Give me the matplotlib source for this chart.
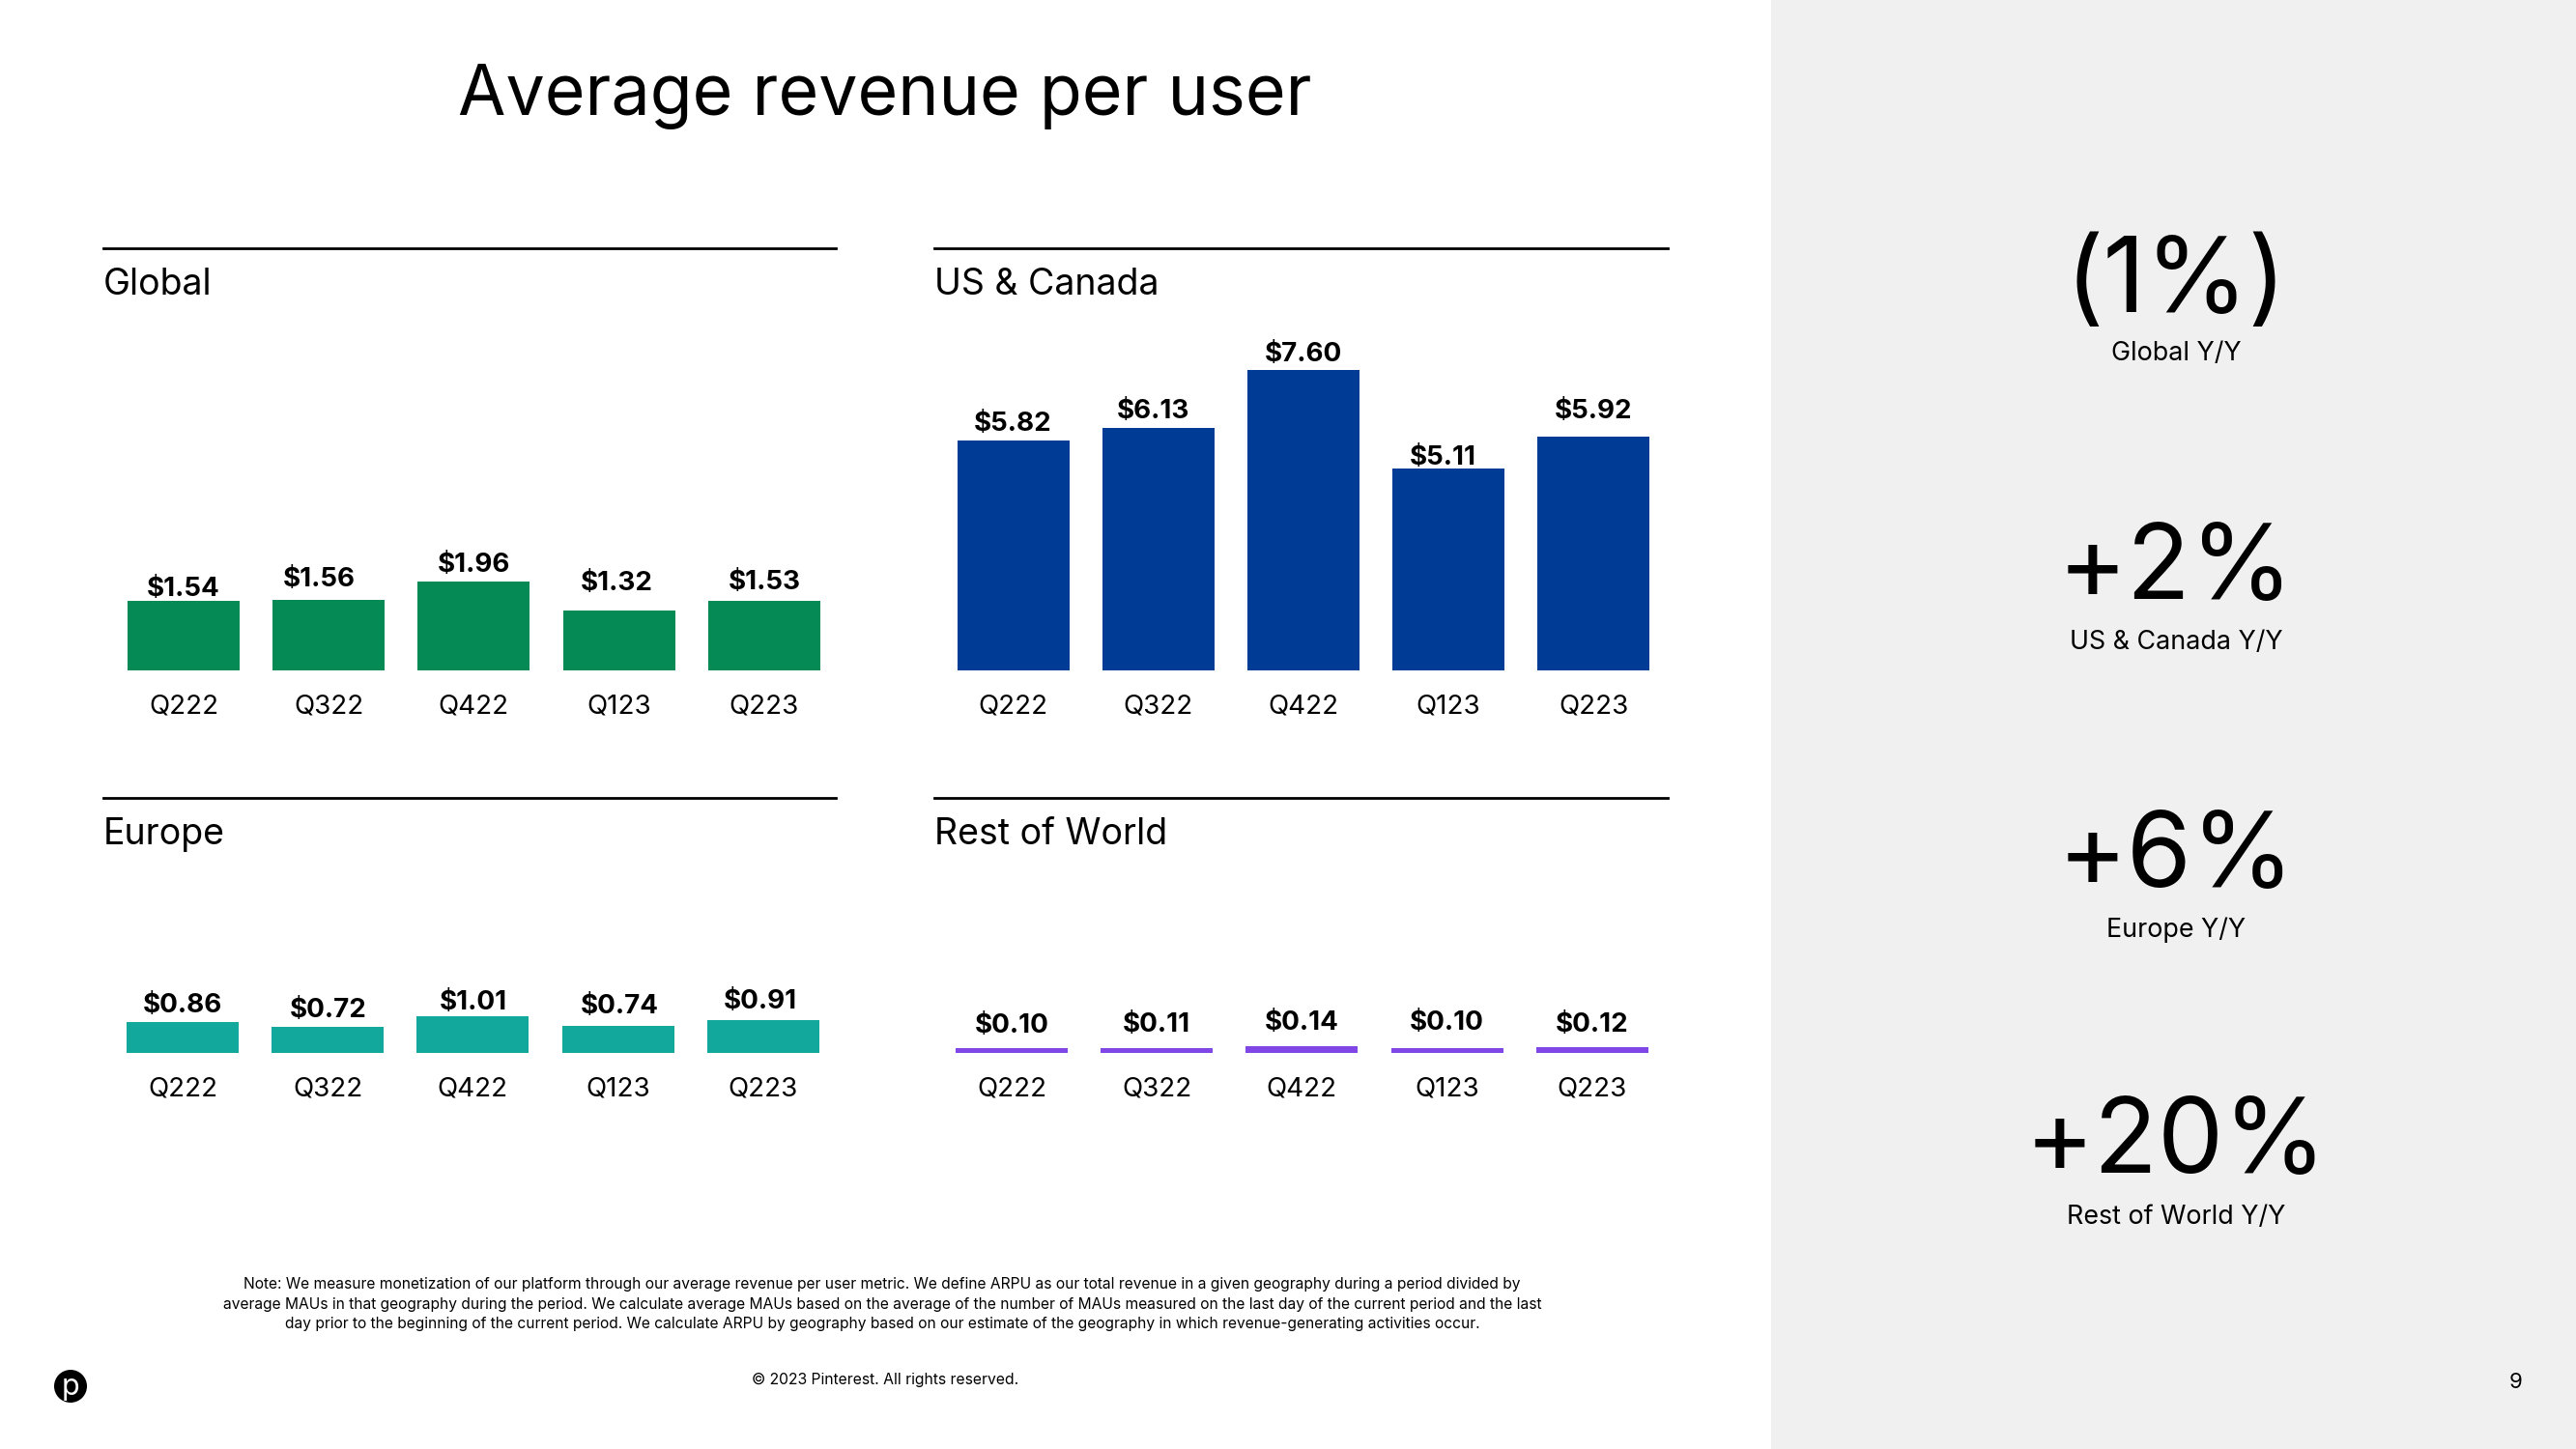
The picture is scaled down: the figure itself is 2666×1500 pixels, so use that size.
import matplotlib
matplotlib.use('Agg')
import matplotlib.pyplot as plt
from matplotlib.patches import Circle, Rectangle

plt.rcParams['font.family'] = ['Inter', 'DejaVu Sans']

# Data
quarters = ['Q222', 'Q322', 'Q422', 'Q123', 'Q223']
arpu_global = [1.54, 1.56, 1.96, 1.32, 1.53]
arpu_us = [5.82, 6.13, 7.60, 5.11, 5.92]
arpu_europe = [0.86, 0.72, 1.01, 0.74, 0.91]
arpu_row = [0.10, 0.11, 0.14, 0.10, 0.12]
yoy_values = ['(1%)', '+2%', '+6%', '+20%']
yoy_labels = ['Global Y/Y', 'US & Canada Y/Y', 'Europe Y/Y', 'Rest of World Y/Y']

note = ('Note: We measure monetization of our platform through our average revenue per user metric. We define ARPU as our total revenue in a given geography during a period divided by\n'
        'average MAUs in that geography during the period. We calculate average MAUs based on the average of the number of MAUs measured on the last day of the current period and the last\n'
        'day prior to the beginning of the current period. We calculate ARPU by geography based on our estimate of the geography in which revenue-generating activities occur.')

W, H = 2666, 1500
fig = plt.figure(figsize=(W / 100, H / 100), dpi=100, facecolor='white')

# overlay in pixel coordinates for the slide furniture
bg = fig.add_axes([0, 0, 1, 1], zorder=0)
bg.set_xlim(0, W)
bg.set_ylim(H, 0)
bg.axis('off')
bg.add_patch(Rectangle((1833, 0), W - 1833, H, color='#F0F0F0', lw=0))


def panel(name, values, color, left, right, top, base, first, pitch, scale, gaps, shifts):
    ax = fig.add_axes([left / W, 1 - base / H, (right - left) / W, (base - top) / H], zorder=1)
    ax.patch.set_alpha(0)
    xs = list(range(len(values)))
    ax.bar(xs, values, width=116 / pitch, color=color, linewidth=0)
    ax.set_xlim((left - first) / pitch, (right - first) / pitch)
    ax.set_ylim(0, (base - top) / scale)
    for s in ['left', 'right', 'bottom']:
        ax.spines[s].set_visible(False)
    ax.spines['top'].set_linewidth(2.0)
    ax.spines['top'].set_color('black')
    ax.set_yticks([])
    ax.set_xticks(xs)
    ax.set_xticklabels(quarters, fontsize=20)
    ax.tick_params(axis='x', length=0, pad=18)
    ax.text(0, 1 - 20 / (base - top), name, transform=ax.transAxes, fontsize=27, va='top', ha='left')
    for x, v, g, s in zip(xs, values, gaps, shifts):
        ax.annotate('$%.2f' % v, (x, v), xytext=(s, g), textcoords='offset pixels',
                    ha='center', va='center', fontsize=20, fontweight='bold')
    return ax


panel('Global', arpu_global, '#058A56', 107, 865, 257, 694, 190, 150.2, 46.8,
      [12, 21, 17, 28, 19], [0, -10, 0, -2, 0])
panel('US & Canada', arpu_us, '#003C96', 967, 1726, 257, 694, 1048.5, 150.2, 40.9,
      [17, 17, 16, 11, 26], [0, -5, 0, -6, 0])
panel('Europe', arpu_europe, '#12A89B', 107, 865, 826, 1090, 189, 150.2, 37.5,
      [17, 17, 14, 20, 19], [0, 0, 0, 2, -3])
panel('Rest of World', arpu_row, '#8046E6', 967, 1726, 826, 1090, 1047, 150.2, 50,
      [23, 23, 24, 26, 23], [0, 0, 0, 0, 0])

bg.text(916, 100, 'Average revenue per user', fontsize=51.6, ha='center', va='center')

big_y = [294, 591, 889, 1186]
small_y = [366, 665, 963, 1260]
for val, lab, y1, y2 in zip(yoy_values, yoy_labels, big_y, small_y):
    bg.text(2252, y1, val, fontsize=78, ha='center', va='center')
    bg.text(2252, y2, lab, fontsize=19.3, ha='center', va='center')

bg.text(913, 1350, note, fontsize=11.2, ha='center', va='center', linespacing=1.45)
bg.text(916, 1428, '© 2023 Pinterest. All rights reserved.', fontsize=11.3, ha='center', va='center')
bg.text(2604, 1431, '9', fontsize=16, ha='center', va='center')

bg.add_patch(Circle((73, 1435), 17, color='black', lw=0))
bg.text(73, 1436, 'p', color='white', fontsize=22, ha='center', va='center')

fig.savefig('out.png', dpi=100)
